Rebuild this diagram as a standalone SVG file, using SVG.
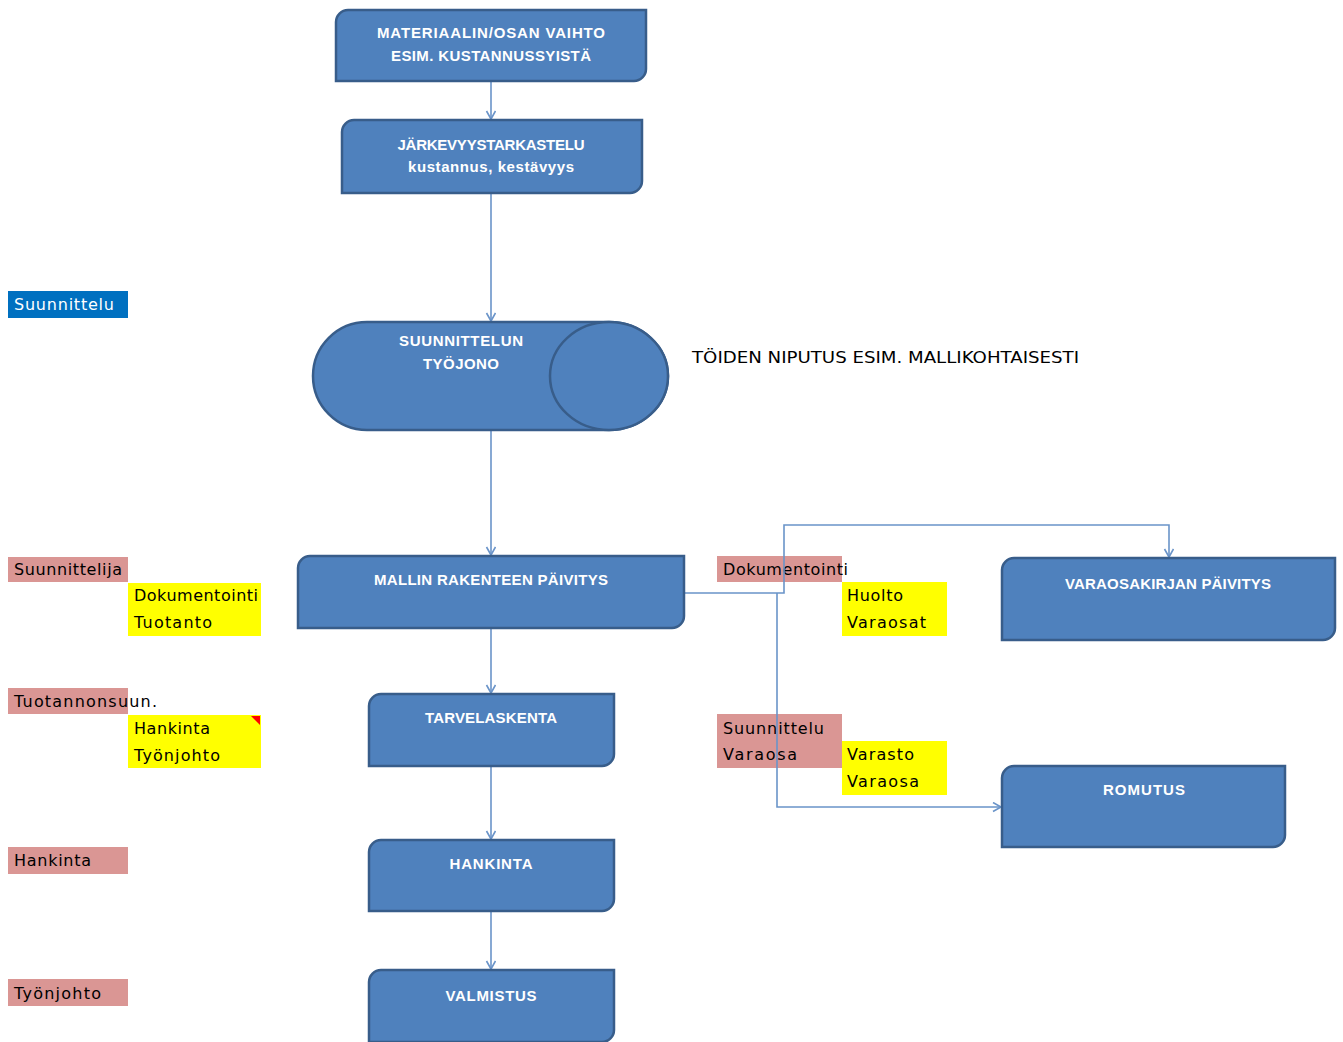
<svg xmlns="http://www.w3.org/2000/svg" width="1343" height="1042" viewBox="0 0 1343 1042">
  <style>
    .node { fill: #4F81BD; stroke: #385D8A; stroke-width: 2.5; }
    .nt { font-family: "Liberation Sans", Arial, sans-serif; font-weight: bold; font-size: 15px; fill: #FFFFFF; text-anchor: middle; }
    .lbl { font-family: "DejaVu Sans", Verdana, sans-serif; font-size: 16px; fill: #000000; }
    .pink { fill: #DA9694; }
    .yellow { fill: #FFFF00; }
    .blue { fill: #0070C0; }
    .conn { fill: none; stroke: #6A94C9; stroke-width: 1.6; }
  </style>
  <defs>
    <marker id="arrow" markerUnits="userSpaceOnUse" markerWidth="12" markerHeight="12" refX="9" refY="5" orient="auto">
      <path d="M1,0.5 L9,5 L1,9.5" fill="none" stroke="#6A94C9" stroke-width="1.6"/>
    </marker>
  </defs>
  <rect width="1343" height="1042" fill="#FFFFFF"/>

  <!-- side labels -->
  <g id="labels">
    <rect class="blue" x="8" y="291" width="120" height="27"/>
    <text class="lbl" x="14" y="310" style="fill:#FFFFFF" textLength="100">Suunnittelu</text>

    <rect class="pink" x="8" y="557" width="120" height="25"/>
    <text class="lbl" x="14" y="575" textLength="108">Suunnittelija</text>
    <rect class="yellow" x="128" y="583" width="133" height="53"/>
    <text class="lbl" x="134" y="601" textLength="124">Dokumentointi</text>
    <text class="lbl" x="134" y="628" textLength="78">Tuotanto</text>

    <rect class="pink" x="8" y="688" width="120" height="26"/>
    <text class="lbl" x="14" y="707" textLength="143">Tuotannonsuun.</text>
    <rect class="yellow" x="128" y="715" width="133" height="53"/>
    <polygon points="251,716 260,716 260,725" fill="#FF0000"/>
    <text class="lbl" x="134" y="734" textLength="76">Hankinta</text>
    <text class="lbl" x="134" y="761" textLength="86">Työnjohto</text>

    <rect class="pink" x="8" y="847" width="120" height="27"/>
    <text class="lbl" x="14" y="866" textLength="77">Hankinta</text>

    <rect class="pink" x="8" y="979" width="120" height="27"/>
    <text class="lbl" x="14" y="999" textLength="87">Työnjohto</text>

    <rect class="pink" x="717" y="556" width="125" height="26"/>
    <text class="lbl" x="723" y="575" textLength="125">Dokumentointi</text>
    <rect class="yellow" x="842" y="582" width="105" height="54"/>
    <text class="lbl" x="847" y="601" textLength="56">Huolto</text>
    <text class="lbl" x="847" y="628" textLength="79">Varaosat</text>

    <rect class="pink" x="717" y="714" width="125" height="54"/>
    <text class="lbl" x="723" y="734" textLength="101">Suunnittelu</text>
    <text class="lbl" x="723" y="760" textLength="74">Varaosa</text>
    <rect class="yellow" x="842" y="741" width="105" height="54"/>
    <text class="lbl" x="847" y="760" textLength="67">Varasto</text>
    <text class="lbl" x="847" y="787" textLength="72">Varaosa</text>

    <text class="lbl" x="692" y="363" textLength="387" lengthAdjust="spacingAndGlyphs">TÖIDEN NIPUTUS ESIM. MALLIKOHTAISESTI</text>
  </g>

  <!-- connectors -->
  <g id="connectors">
    <line class="conn" x1="491" y1="82" x2="491" y2="119" marker-end="url(#arrow)"/>
    <line class="conn" x1="491" y1="194" x2="491" y2="321" marker-end="url(#arrow)"/>
    <line class="conn" x1="491" y1="431" x2="491" y2="555" marker-end="url(#arrow)"/>
    <line class="conn" x1="491" y1="629" x2="491" y2="693" marker-end="url(#arrow)"/>
    <line class="conn" x1="491" y1="767" x2="491" y2="839" marker-end="url(#arrow)"/>
    <line class="conn" x1="491" y1="912" x2="491" y2="969" marker-end="url(#arrow)"/>
    <path class="conn" d="M685,593 H784 V525 H1169 V557" marker-end="url(#arrow)"/>
    <path class="conn" d="M777,593 V807 H1001" marker-end="url(#arrow)"/>
  </g>

  <!-- process nodes -->
  <g id="n-materiaali">
    <path class="node" d="M348,10 H646 V69 A12,12 0 0 1 634,81 H336 V22 A12,12 0 0 1 348,10 Z"/>
    <text class="nt" x="491" y="38" textLength="228">MATERIAALIN/OSAN VAIHTO</text>
    <text class="nt" x="491" y="61" textLength="200">ESIM. KUSTANNUSSYISTÄ</text>
  </g>
  <g id="n-jarkevyys">
    <path class="node" d="M354,120 H642 V181 A12,12 0 0 1 630,193 H342 V132 A12,12 0 0 1 354,120 Z"/>
    <text class="nt" x="491" y="150" textLength="187">JÄRKEVYYSTARKASTELU</text>
    <text class="nt" x="491" y="172" textLength="166">kustannus, kestävyys</text>
  </g>
  <g id="n-tyojono">
    <path class="node" d="M367,322 H609 A59,54 0 0 1 609,430 H367 A54,54 0 0 1 367,322 Z"/>
    <ellipse class="node" cx="609" cy="376" rx="59" ry="54"/>
    <text class="nt" x="461" y="346" textLength="124">SUUNNITTELUN</text>
    <text class="nt" x="461" y="369" textLength="76">TYÖJONO</text>
  </g>
  <g id="n-mallin">
    <path class="node" d="M310,556 H684 V616 A12,12 0 0 1 672,628 H298 V568 A12,12 0 0 1 310,556 Z"/>
    <text class="nt" x="491" y="585" textLength="234">MALLIN RAKENTEEN PÄIVITYS</text>
  </g>
  <g id="n-tarvelaskenta">
    <path class="node" d="M381,694 H614 V754 A12,12 0 0 1 602,766 H369 V706 A12,12 0 0 1 381,694 Z"/>
    <text class="nt" x="491" y="723" textLength="132">TARVELASKENTA</text>
  </g>
  <g id="n-hankinta">
    <path class="node" d="M381,840 H614 V899 A12,12 0 0 1 602,911 H369 V852 A12,12 0 0 1 381,840 Z"/>
    <text class="nt" x="491" y="869" textLength="83">HANKINTA</text>
  </g>
  <g id="n-valmistus">
    <path class="node" d="M381,970 H614 V1030 A12,12 0 0 1 602,1042 H369 V982 A12,12 0 0 1 381,970 Z"/>
    <text class="nt" x="491" y="1001" textLength="91">VALMISTUS</text>
  </g>
  <g id="n-varaosakirja">
    <path class="node" d="M1014,558 H1335 V628 A12,12 0 0 1 1323,640 H1002 V570 A12,12 0 0 1 1014,558 Z"/>
    <text class="nt" x="1168" y="589" textLength="206">VARAOSAKIRJAN PÄIVITYS</text>
  </g>
  <g id="n-romutus">
    <path class="node" d="M1014,766 H1285 V835 A12,12 0 0 1 1273,847 H1002 V778 A12,12 0 0 1 1014,766 Z"/>
    <text class="nt" x="1144" y="795" textLength="82">ROMUTUS</text>
  </g>
</svg>
